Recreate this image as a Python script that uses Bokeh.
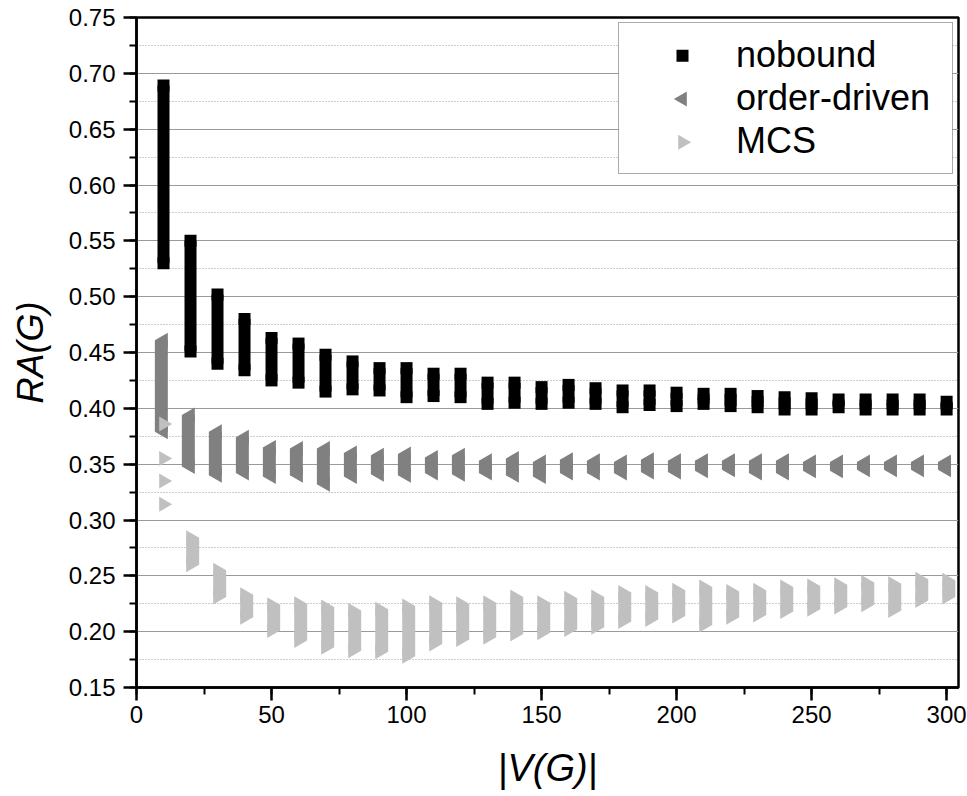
import math
from bokeh.plotting import figure
from bokeh.models import (ColumnDataSource, Range1d, SingleIntervalTicker,
                          NumeralTickFormatter, Legend, LegendItem)
from bokeh.transform import dodge
from bokeh.embed import file_html
from bokeh.resources import INLINE

# ---------------- data ----------------
x_vals = [10, 20, 30, 40, 50, 60, 70, 80, 90, 100, 110, 120, 130, 140, 150,
          160, 170, 180, 190, 200, 210, 220, 230, 240, 250, 260, 270, 280, 290, 300]

nobound_lo = [0.530, 0.451, 0.440, 0.434, 0.425, 0.423, 0.415, 0.417, 0.416, 0.410,
              0.411, 0.410, 0.404, 0.405, 0.404, 0.405, 0.404, 0.401, 0.403, 0.402,
              0.404, 0.402, 0.401, 0.399, 0.399, 0.401, 0.399, 0.399, 0.399, 0.399]
nobound_hi = [0.689, 0.550, 0.502, 0.480, 0.463, 0.458, 0.448, 0.442, 0.436, 0.436,
              0.431, 0.431, 0.423, 0.423, 0.419, 0.421, 0.418, 0.416, 0.416, 0.414,
              0.413, 0.413, 0.411, 0.410, 0.409, 0.408, 0.408, 0.408, 0.408, 0.406]

order_lo = [0.379, 0.348, 0.340, 0.342, 0.339, 0.340, 0.332, 0.339, 0.341, 0.340,
            0.342, 0.341, 0.342, 0.340, 0.339, 0.342, 0.342, 0.342, 0.343, 0.343,
            0.344, 0.345, 0.342, 0.342, 0.344, 0.344, 0.345, 0.345, 0.345, 0.345]
order_hi = [0.461, 0.394, 0.379, 0.374, 0.365, 0.364, 0.364, 0.360, 0.358, 0.359,
            0.356, 0.358, 0.353, 0.355, 0.352, 0.354, 0.353, 0.352, 0.354, 0.353,
            0.353, 0.353, 0.353, 0.353, 0.352, 0.352, 0.352, 0.352, 0.352, 0.352]

mcs_x = [20, 30, 40, 50, 60, 70, 80, 90, 100, 110, 120, 130, 140, 150,
         160, 170, 180, 190, 200, 210, 220, 230, 240, 250, 260, 270, 280, 290, 300]
mcs_lo = [0.260, 0.231, 0.213, 0.201, 0.192, 0.186, 0.183, 0.182, 0.178, 0.189,
          0.193, 0.195, 0.198, 0.199, 0.202, 0.204, 0.209, 0.211, 0.214, 0.206,
          0.213, 0.215, 0.218, 0.220, 0.222, 0.224, 0.219, 0.228, 0.231]
mcs_hi = [0.284, 0.255, 0.233, 0.224, 0.225, 0.222, 0.219, 0.220, 0.223, 0.226,
          0.225, 0.226, 0.231, 0.226, 0.230, 0.231, 0.235, 0.235, 0.237, 0.240,
          0.236, 0.237, 0.240, 0.241, 0.242, 0.244, 0.243, 0.247, 0.246]
mcs_x10_x = [10, 10, 10, 10]
mcs_x10_y = [0.386, 0.355, 0.335, 0.314]

series_labels = ["nobound", "order-driven", "MCS"]
x_title = "|V(G)|"
y_title = "RA(G)"

# ---------------- layout constants ----------------
FONT = "Liberation Sans"
BLACK, DARK, LIGHT = "#000000", "#808080", "#c0c0c0"
W, H = 967, 796
ML, MR, MT, MB = 136, 9, 17, 109
FW, FH = W - ML - MR, H - MT - MB          # frame size in px
XMAX = 304.4

p = figure(width=W, height=H, output_backend="svg", toolbar_location=None,
           x_range=Range1d(0, XMAX), y_range=Range1d(0.15, 0.75),
           min_border_left=ML, min_border_right=MR, min_border_top=MT,
           min_border_bottom=MB)
p.background_fill_color = "white"
p.border_fill_color = "white"
p.outline_line_color = "black"
p.outline_line_width = 2.5

# pixel coordinate system (frame px) used only for the legend box / keys
p.extra_x_ranges = {"px": Range1d(0, FW)}
p.extra_y_ranges = {"py": Range1d(0, FH)}

xt = SingleIntervalTicker(interval=50, num_minor_ticks=2)
yt = SingleIntervalTicker(interval=0.05, num_minor_ticks=2)
p.xaxis.ticker = xt
p.yaxis.ticker = yt
p.yaxis.formatter = NumeralTickFormatter(format="0.00")
for ax in (p.xaxis[0], p.yaxis[0]):
    ax.axis_line_color = "black"
    ax.axis_line_width = 2.5
    ax.major_tick_line_color = "black"
    ax.major_tick_line_width = 2.5
    ax.major_tick_out = 13
    ax.major_tick_in = 0
    ax.minor_tick_line_color = "black"
    ax.minor_tick_line_width = 2
    ax.minor_tick_out = 7
    ax.minor_tick_in = 0
    ax.major_label_text_font = FONT
    ax.major_label_text_font_size = "24px"
    ax.major_label_text_color = "black"
    ax.axis_label_text_font = FONT
    ax.axis_label_text_color = "black"
    ax.axis_label_text_font_style = "italic"
p.xaxis.axis_label_text_font_size = "38px"
p.yaxis.axis_label_text_font_size = "36px"
p.yaxis.major_label_standoff = 8
p.xaxis.major_label_standoff = 5
p.xaxis.axis_label = x_title
p.yaxis.axis_label = y_title
p.xaxis.axis_label_standoff = 21
p.yaxis.axis_label_standoff = 15

p.xgrid.visible = False
p.ygrid.ticker = yt
p.ygrid.grid_line_color = "#9a9a9a"
p.ygrid.grid_line_width = 1.2
p.ygrid.minor_grid_line_color = "#9a9a9a"
p.ygrid.minor_grid_line_width = 1.2
p.ygrid.minor_grid_line_dash = "1 2"


def band_source(xs, lo, hi):
    return ColumnDataSource(dict(
        x=xs, lo=lo, hi=hi,
        mid=[(a + b) / 2 for a, b in zip(lo, hi)],
        h=[b - a for a, b in zip(lo, hi)]))


SQ = 12      # square marker size (px)
TRI = 15     # triangle marker size (px)
TRI_W = TRI * math.sqrt(3) / 2
TRI_SHIFT = (TRI_W / 6) * XMAX / FW      # centroid -> box centre, in x units

# nobound: squares
s_nb = band_source(x_vals, nobound_lo, nobound_hi)
p.rect(x="x", y="mid", width=SQ, height="h", width_units="screen",
       source=s_nb, fill_color=BLACK, line_color=None)
p.scatter(x="x", y="lo", source=s_nb, marker="square", size=SQ,
          fill_color=BLACK, line_color=None)
r_nb = p.scatter(x="x", y="hi", source=s_nb, marker="square", size=SQ,
                 fill_color=BLACK, line_color=None)

# order-driven: left-pointing triangles
s_od = band_source(x_vals, order_lo, order_hi)
p.rect(x=dodge("x", -TRI_SHIFT, range=p.x_range), y="mid", width=TRI_W, height="h",
       width_units="screen", source=s_od, fill_color=DARK, line_color=None)
p.scatter(x="x", y="lo", source=s_od, marker="triangle", size=TRI,
          angle=math.pi / 2, fill_color=DARK, line_color=None)
r_od = p.scatter(x="x", y="hi", source=s_od, marker="triangle", size=TRI,
                 angle=math.pi / 2, fill_color=DARK, line_color=None)

# MCS: right-pointing triangles
s_mc = band_source(mcs_x, mcs_lo, mcs_hi)
p.rect(x=dodge("x", TRI_SHIFT, range=p.x_range), y="mid", width=TRI_W, height="h",
       width_units="screen", source=s_mc, fill_color=LIGHT, line_color=None)
p.scatter(x="x", y="lo", source=s_mc, marker="triangle", size=TRI,
          angle=-math.pi / 2, fill_color=LIGHT, line_color=None)
r_mc = p.scatter(x="x", y="hi", source=s_mc, marker="triangle", size=TRI,
                 angle=-math.pi / 2, fill_color=LIGHT, line_color=None)
p.scatter(x=mcs_x10_x, y=mcs_x10_y, marker="triangle", size=TRI,
          angle=-math.pi / 2, fill_color=LIGHT, line_color=None)

# ---------------- legend ----------------
LEG_LEFT, LEG_RIGHT, LEG_TOP, LEG_BOTTOM = 618, 952, 23, 174      # canvas px
PAD, GW, STANDOFF, ROW_GAP = 11, 106, 0, 1

# white legend panel + keys (glyph level, in frame px)
p.quad(left=[LEG_LEFT - ML], right=[LEG_RIGHT - ML],
       top=[(MT + FH) - LEG_TOP], bottom=[(MT + FH) - LEG_BOTTOM],
       fill_color="white", line_color=None, x_range_name="px", y_range_name="py")
row_h = (LEG_BOTTOM - LEG_TOP - 2 * PAD - 2 * ROW_GAP) / 3
key_x = LEG_LEFT - ML + PAD + GW / 2
key_y = [(MT + FH) - (LEG_TOP + PAD + row_h / 2 + i * (row_h + ROW_GAP)) for i in range(3)]
p.scatter(x=[key_x], y=[key_y[0]], marker="square", size=SQ, fill_color=BLACK,
          line_color=None, x_range_name="px", y_range_name="py")
p.scatter(x=[key_x], y=[key_y[1]], marker="triangle", size=TRI, angle=math.pi / 2,
          fill_color=DARK, line_color=None, x_range_name="px", y_range_name="py")
p.scatter(x=[key_x], y=[key_y[2]], marker="triangle", size=TRI, angle=-math.pi / 2,
          fill_color=LIGHT, line_color=None, x_range_name="px", y_range_name="py")

legend = Legend(items=[LegendItem(label=series_labels[0], renderers=[r_nb]),
                       LegendItem(label=series_labels[1], renderers=[r_od]),
                       LegendItem(label=series_labels[2], renderers=[r_mc])],
                location=(LEG_LEFT - ML, (MT + FH) - LEG_BOTTOM))
legend.margin = 0
legend.padding = PAD
legend.spacing = ROW_GAP
legend.glyph_width = GW
legend.glyph_height = 1          # built-in keys hidden; keys drawn above
legend.label_standoff = STANDOFF
legend.label_width = 205
legend.label_text_font = FONT
legend.label_text_font_size = "36px"
legend.label_text_color = "black"
legend.border_line_color = "#555555"
legend.border_line_width = 1.5
legend.background_fill_alpha = 0.0
p.add_layout(legend)

html = file_html(p, INLINE)
open("out.html", "w").write(html)
